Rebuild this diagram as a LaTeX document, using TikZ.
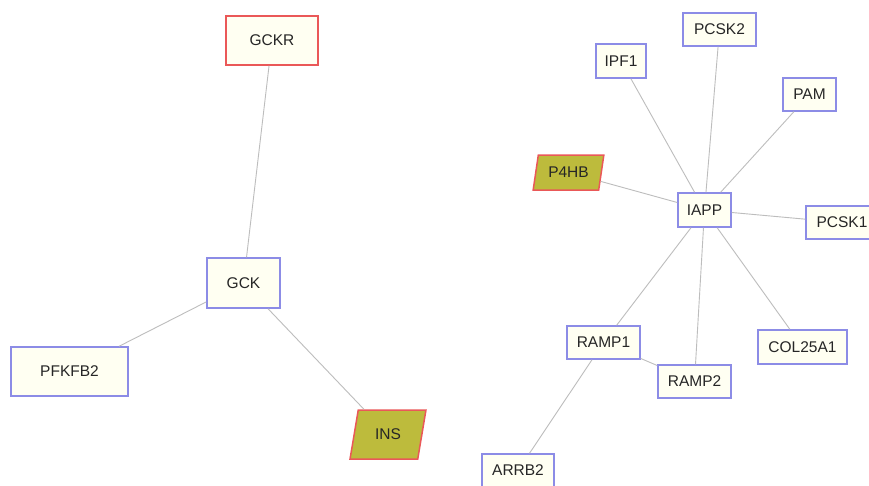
\documentclass[tikz,border=0pt]{standalone}
\usepackage{fontspec}
\setmainfont{Liberation Sans}
\usetikzlibrary{shapes.geometric}
\definecolor{boxfill}{HTML}{FFFFF2}
\definecolor{boxblue}{HTML}{8C8CE6}
\definecolor{boxred}{HTML}{EA5858}
\definecolor{olive}{HTML}{BDBB3C}
\definecolor{edgegray}{HTML}{BDBDBD}
\tikzset{
  gene/.style={draw=boxblue, fill=boxfill, line width=1.5pt, rectangle,
    inner sep=0pt, font=\fontsize{15.5}{18}\selectfont, text=black!85},
  seed/.style={gene, draw=boxred},
  hub/.style={draw=boxred, fill=olive, line width=1.5pt, trapezium,
    trapezium left angle=72, trapezium right angle=108, trapezium stretches=true,
    inner sep=0pt, font=\fontsize{15.5}{18}\selectfont, text=black!85},
  link/.style={draw=edgegray, line width=0.9pt}
}
\begin{document}
\begin{tikzpicture}[x=1pt, y=-1pt]
\useasboundingbox (0,0) rectangle (869,485);
\clip (0,0) rectangle (869,485);
\fill[white] (0,0) rectangle (869,485);

% left component
\node[seed, minimum width=92pt, minimum height=49pt] (gckr) at (272,40.5) {GCKR};
\node[gene, minimum width=73pt, minimum height=50pt] (gck) at (243.5,283) {GCK};
\node[gene, minimum width=117pt, minimum height=49pt] (pfkfb2) at (69.5,371.5) {PFKFB2};
\node[hub, minimum width=76pt, minimum height=49pt] (ins) at (388,434.5) {INS};

% right component
\node[hub, minimum width=71pt, minimum height=35pt] (p4hb) at (568.5,172.5) {P4HB};
\node[gene, minimum width=50pt, minimum height=34pt] (ipf1) at (621,61) {IPF1};
\node[gene, minimum width=73pt, minimum height=33pt] (pcsk2) at (719.5,29.5) {PCSK2};
\node[gene, minimum width=53pt, minimum height=33pt] (pam) at (809.5,94.5) {PAM};
\node[gene, minimum width=53pt, minimum height=34pt] (iapp) at (704.5,210) {IAPP};
\node[gene, minimum width=72pt, minimum height=33pt] (pcsk1) at (842,222.5) {PCSK1};
\node[gene, minimum width=89pt, minimum height=34pt] (col25a1) at (802.5,347) {COL25A1};
\node[gene, minimum width=73pt, minimum height=33pt] (ramp1) at (603.5,342.5) {RAMP1};
\node[gene, minimum width=73pt, minimum height=33pt] (ramp2) at (694.5,381.5) {RAMP2};
\node[gene, minimum width=72pt, minimum height=33pt] (arrb2) at (518,470.5) {ARRB2};

% interactions
\draw[link] (gckr) -- (gck);
\draw[link] (gck) -- (pfkfb2);
\draw[link] (gck) -- (ins);
\draw[link] (iapp) -- (p4hb);
\draw[link] (iapp) -- (ipf1);
\draw[link] (iapp) -- (pcsk2);
\draw[link] (iapp) -- (pam);
\draw[link] (iapp) -- (pcsk1);
\draw[link] (iapp) -- (col25a1);
\draw[link] (iapp) -- (ramp1);
\draw[link] (iapp) -- (ramp2);
\draw[link] (ramp1) -- (ramp2);
\draw[link] (ramp1) -- (arrb2);
\end{tikzpicture}
\end{document}
